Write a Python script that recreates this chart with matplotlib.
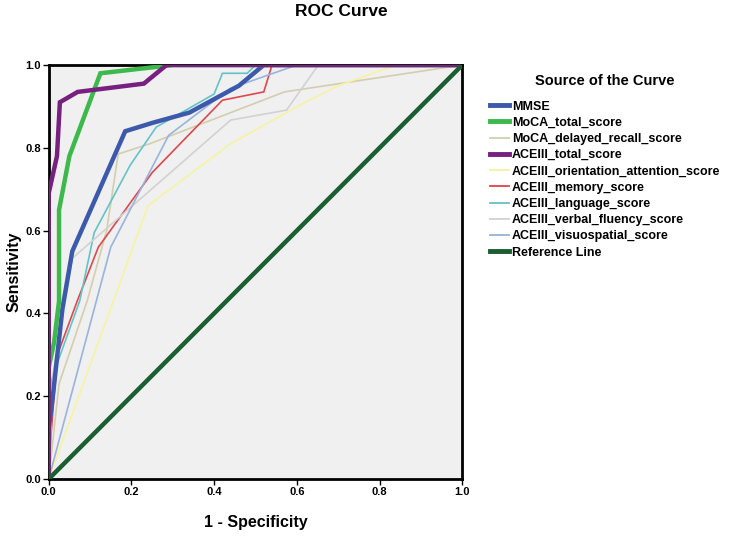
import matplotlib
matplotlib.use("Agg")
import matplotlib.pyplot as plt
from matplotlib.lines import Line2D

plt.rcParams['font.family'] = ['Liberation Sans', 'DejaVu Sans']

# ---- data (1 - specificity, sensitivity) ----
series_names = ["MMSE", "MoCA_total_score", "MoCA_delayed_recall_score",
                "ACEIII_total_score", "ACEIII_orientation_attention_score",
                "ACEIII_memory_score", "ACEIII_language_score",
                "ACEIII_verbal_fluency_score", "ACEIII_visuospatial_score",
                "Reference Line"]

mmse_x = [0, 0, 0.01, 0.033, 0.057, 0.185, 0.25, 0.34, 0.46, 0.52, 1.0]
mmse_y = [0, 0.12, 0.20, 0.41, 0.55, 0.84, 0.86, 0.885, 0.95, 1.0, 1.0]

moca_total_x = [0, 0, 0.013, 0.025, 0.025, 0.05, 0.125, 0.30, 1.0]
moca_total_y = [0, 0.27, 0.33, 0.43, 0.65, 0.78, 0.98, 1.0, 1.0]

moca_recall_x = [0, 0.025, 0.093, 0.14, 0.168, 0.245, 0.57, 1.0]
moca_recall_y = [0, 0.23, 0.43, 0.60, 0.785, 0.81, 0.935, 1.0]

ace_total_x = [0, 0, 0.02, 0.027, 0.07, 0.23, 0.285, 1.0]
ace_total_y = [0, 0.69, 0.78, 0.91, 0.935, 0.955, 1.0, 1.0]

ace_orient_x = [0, 0.24, 0.44, 0.53, 0.62, 0.70, 0.84, 1.0]
ace_orient_y = [0, 0.66, 0.81, 0.86, 0.91, 0.95, 1.0, 1.0]

ace_memory_x = [0, 0.005, 0.021, 0.069, 0.12, 0.25, 0.42, 0.52, 0.54, 1.0]
ace_memory_y = [0, 0.10, 0.30, 0.43, 0.56, 0.74, 0.915, 0.935, 1.0, 1.0]

ace_language_x = [0, 0, 0.01, 0.075, 0.11, 0.197, 0.26, 0.40, 0.42, 0.48, 0.50, 1.0]
ace_language_y = [0, 0.20, 0.25, 0.43, 0.595, 0.758, 0.85, 0.93, 0.98, 0.98, 1.0, 1.0]

ace_fluency_x = [0, 0.01, 0.057, 0.44, 0.575, 0.652, 1.0]
ace_fluency_y = [0, 0.25, 0.533, 0.867, 0.891, 1.0, 1.0]

ace_visuo_x = [0, 0.15, 0.29, 0.44, 0.60, 1.0]
ace_visuo_y = [0, 0.56, 0.83, 0.944, 1.0, 1.0]

ref_x = [0, 1]
ref_y = [0, 1]

tick_vals = [0.0, 0.2, 0.4, 0.6, 0.8, 1.0]
tick_labels = ["0.0", "0.2", "0.4", "0.6", "0.8", "1.0"]

# ---- styles ----
colors = ["#3C59AC", "#3DB84B", "#D3CEAE", "#77207F", "#F6F3A2",
          "#E0474C", "#62C4C8", "#D2D2D2", "#98B4DC", "#1B5E32"]
widths = [3.2, 3.2, 1.2, 3.2, 1.2, 1.2, 1.2, 1.2, 1.2, 3.2]

xs = [mmse_x, moca_total_x, moca_recall_x, ace_total_x, ace_orient_x,
      ace_memory_x, ace_language_x, ace_fluency_x, ace_visuo_x, ref_x]
ys = [mmse_y, moca_total_y, moca_recall_y, ace_total_y, ace_orient_y,
      ace_memory_y, ace_language_y, ace_fluency_y, ace_visuo_y, ref_y]

W, H = 730, 536
fig = plt.figure(figsize=(W / 100, H / 100), dpi=100)
fig.patch.set_facecolor("white")
ax = fig.add_axes([48.7 / W, 57 / H, 413.6 / W, 414 / H])
ax.set_facecolor("#F0F0F0")

order = [2, 4, 5, 6, 7, 8, 0, 1, 3, 9]
for i in order:
    ax.plot(xs[i], ys[i], color=colors[i], lw=widths[i],
            solid_joinstyle="miter", zorder=2 + (1 if widths[i] > 2 else 0))

ax.set_xlim(0, 1)
ax.set_ylim(0, 1)
ax.set_xticks(tick_vals)
ax.set_yticks(tick_vals)
ax.set_xticklabels(tick_labels, fontsize=8, fontweight="bold")
ax.set_yticklabels(tick_labels, fontsize=8, fontweight="bold")
ax.tick_params(direction="out", length=4, width=1, pad=1.5, colors="black")
for sp in ax.spines.values():
    sp.set_linewidth(2)
    sp.set_color("black")

ax.set_xlabel("1 - Specificity", fontsize=11.5, fontweight="bold", labelpad=13)
ax.set_ylabel("Sensitivity", fontsize=11.5, fontweight="bold", labelpad=3)

fig.text(341 / W, 1 - 12 / H, "ROC Curve", fontsize=12.5, fontweight="bold",
         ha="center", va="center")

handles = [Line2D([0], [0], color=colors[i], lw=widths[i] * 1.1)
           for i in range(len(series_names))]
leg = fig.legend(handles, series_names, loc="upper left",
                 bbox_to_anchor=(490 / W, 1 - 74 / H),
                 frameon=False, fontsize=9, title="Source of the Curve",
                 title_fontproperties={"weight": "bold", "size": 10.5},
                 handlelength=1.5, handletextpad=0.25, labelspacing=0.34,
                 borderpad=0, borderaxespad=0)
for t in leg.get_texts():
    t.set_fontweight("bold")
leg._legend_box.sep = 9

fig.savefig("out.png", dpi=100, facecolor="white")
